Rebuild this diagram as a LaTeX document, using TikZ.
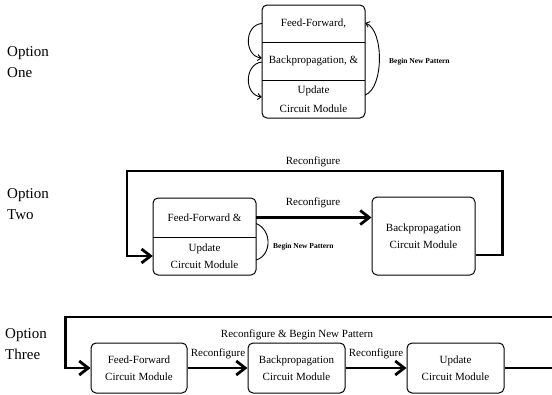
\documentclass[tikz,border=0pt]{standalone}
\usepackage{fontspec}
\setmainfont{Liberation Serif}
\usetikzlibrary{arrows.meta,calc}
\begin{document}
\begin{tikzpicture}[x=1pt,y=-1pt,
  box/.style={draw, line width=1pt, rounded corners=5pt, inner sep=0pt},
  sect/.style={inner sep=0pt, align=center, font=\fontsize{11}{17}\selectfont},
  opt/.style={font=\fontsize{15}{21}\selectfont, align=left, anchor=west, inner sep=0pt},
  small/.style={font=\bfseries\fontsize{7.5}{9}\selectfont, inner sep=0pt, anchor=west},
  lbl/.style={font=\fontsize{11}{13}\selectfont, inner sep=0pt},
  thickline/.style={line width=2.8pt},
  thickarrow/.style={line width=2.8pt, -{Straight Barb[length=9pt,width=14pt]}},
  thinarc/.style={line width=0.9pt, -{Straight Barb[length=3.5pt,width=6pt]}},
  thinline/.style={line width=0.9pt}]
\useasboundingbox (0,0) rectangle (552,394);

% ---------- Option labels ----------
\node[opt] (o1) at (7,62.5) {Option\\One};
\node[opt] (o2) at (7,204) {Option\\Two};
\node[opt] (o3) at (5,344.5) {Option\\Three};

% ---------- Option One ----------
\node[box, minimum width=103pt, minimum height=113pt] (b1) at (313.5,61.5) {};
\node[sect, minimum width=103pt, minimum height=37pt] (ff1) at (313.5,23.5) {Feed-Forward,};
\node[sect, minimum width=103pt, minimum height=38pt] (bp1) at (313.5,61) {Backpropagation, \&};
\node[sect, minimum width=103pt, minimum height=38pt, font=\fontsize{11}{19}\selectfont] (up1) at (313.5,99) {Update\\Circuit Module};
\draw[thinline] (ff1.south west) -- (ff1.south east);
\draw[thinline] (bp1.south west) -- (bp1.south east);
\draw[thinarc] ($(ff1.west)+(0,0)$) .. controls (244,25) and (244,56) .. ($(bp1.west)+(0,-3)$);
\draw[thinarc] ($(bp1.west)+(0,1)$) .. controls (244,64) and (244,95) .. ($(up1.west)+(0,-2)$);
\draw[thinarc] ($(up1.east)+(0,-4)$) .. controls (384,88) and (384,30) .. ($(ff1.east)+(0,-0.5)$);
\node[small] (bnp1) at (389,62) {Begin New Pattern};

% ---------- Option Two ----------
\node[box, minimum width=103pt, minimum height=77pt] (b21) at (204.5,236.5) {};
\node[sect, minimum width=103pt, minimum height=39pt] (ff2) at (204.5,217.5) {Feed-Forward \&};
\node[sect, minimum width=103pt, minimum height=38pt] (up2) at (204.5,256) {Update\\Circuit Module};
\draw[thinline] (ff2.south west) -- (ff2.south east);
\node[box, minimum width=103pt, minimum height=78pt, align=center, font=\fontsize{11}{17}\selectfont] (b22) at (423.5,236) {Backpropagation\\Circuit Module};
\draw[thickarrow] (ff2.east) -- (ff2.east -| b22.west);
\node[lbl] (rc21) at (313,203) {Reconfigure};
\draw[thickarrow] ($(b22.east)+(0,19)$) -- ++(27,0) |- (127,171) |- (up2.west);
\node[lbl] (rc22) at (313,162) {Reconfigure};
\draw[thinline] ($(ff2.east)+(0,6)$) .. controls (272,230) and (272,255) .. ($(up2.east)+(0,4)$);
\node[small] (bnp2) at (273,247) {Begin New Pattern};

% ---------- Option Three ----------
\node[box, minimum width=96pt, minimum height=50pt, align=center, font=\fontsize{11}{17}\selectfont] (b31) at (139,368) {Feed-Forward\\Circuit Module};
\node[box, minimum width=97pt, minimum height=50pt, align=center, font=\fontsize{11}{17}\selectfont] (b32) at (296.5,368) {Backpropagation\\Circuit Module};
\node[box, minimum width=97pt, minimum height=50pt, align=center, font=\fontsize{11}{17}\selectfont] (b33) at (455.5,368) {Update\\Circuit Module};
\draw[thickarrow] (b31.east) -- (b32.west);
\draw[thickarrow] (b32.east) -- (b33.west);
\node[lbl] (rc31) at (218,354) {Reconfigure};
\node[lbl] (rc32) at (376,354) {Reconfigure};
\coordinate (r3top) at (558,317);
\coordinate (r3right) at (558,368);
\draw[thickline] (b33.east) -- (r3right);
\draw[thickarrow] (r3top) -| ($(b31.west)+(-25,0)$) -- (b31.west);
\node[lbl] (rc33) at (297,335) {Reconfigure \& Begin New Pattern};
\end{tikzpicture}
\end{document}
